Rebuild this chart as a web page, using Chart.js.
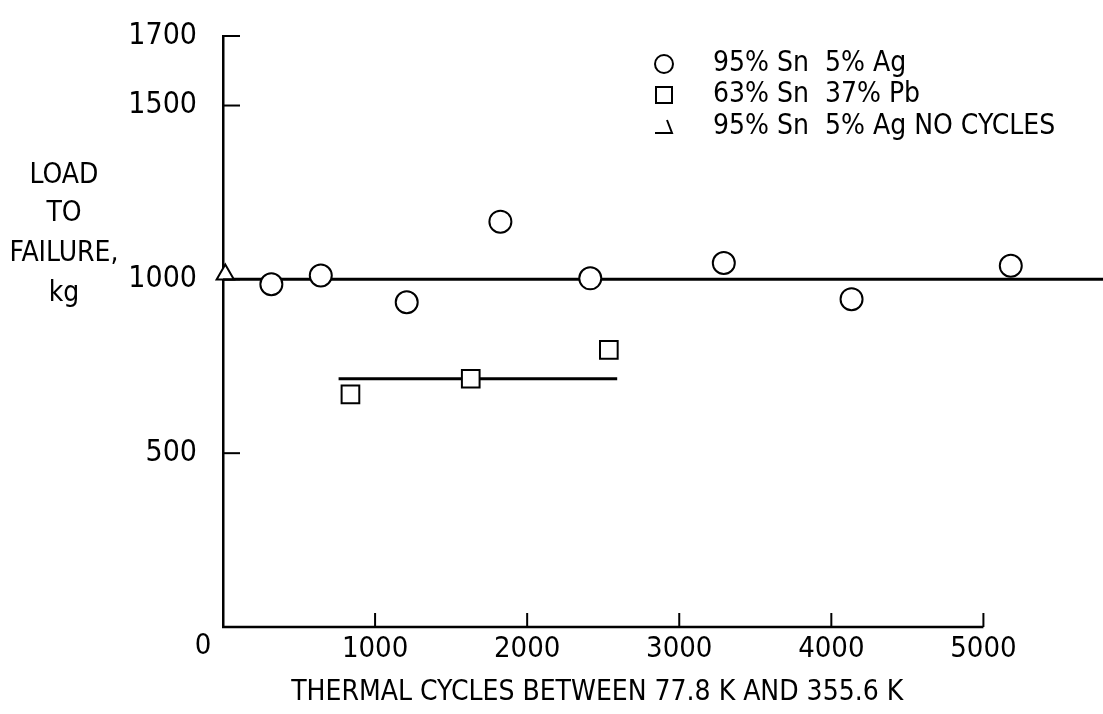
<!DOCTYPE html>
<html>
<head>
<meta charset="utf-8">
<script src="https://cdn.jsdelivr.net/npm/chart.js@4/dist/chart.umd.min.js"></script>
<style>
  html, body { margin: 0; padding: 0; background: #fff; }
</style>
</head>
<body>
<canvas id="myChart" width="1103" height="714"></canvas>
<script>
var FONT = '"Liberation Sans Narrow", "DejaVu Sans Condensed", "Roboto Condensed", sans-serif';

// 95% Sn 5% Ag solder: thermal cycles vs load to failure (kg)
var snAgCycles = [318, 643, 1208, 1824, 2415, 3293, 4133, 5180];
var snAgLoad = [986, 1011, 934, 1166, 1003, 1047, 943, 1039];
// 63% Sn 37% Pb solder
var snPbCycles = [838, 1629, 2537];
var snPbLoad = [669, 714, 797];
// 95% Sn 5% Ag, no cycles
var noCycCycles = [15];
var noCycLoad = [1014];
// faired lines
var snAgFitCycles = [0, 5800];
var snAgFitLoad = [1000, 1000];
var snPbFitCycles = [760, 2592];
var snPbFitLoad = [714, 714];

var xTicks = [0, 1000, 2000, 3000, 4000, 5000];
var yTicks = [500, 1000, 1500, 1700];
var yTitle = ['LOAD', 'TO', 'FAILURE,', 'kg'];
var xTitle = 'THERMAL CYCLES BETWEEN 77.8 K AND 355.6 K';
var legendLabels = ['95% Sn  5% Ag', '63% Sn  37% Pb', '95% Sn  5% Ag NO CYCLES'];

function pts(xs, ys) {
    return xs.map(function (x, i) { return {x: x, y: ys[i]}; });
}

// x axis line that stops at 5000, inward tick marks, corner zero, titles and legend
var extras = {
    id: 'extras',
    afterDraw: function (chart) {
        var ctx = chart.ctx;
        var xs = chart.scales.x, ys = chart.scales.y;
        var a = chart.chartArea;
        var x0 = xs.getPixelForValue(0), xEnd = xs.getPixelForValue(xTicks[xTicks.length - 1]);
        ctx.save();
        ctx.strokeStyle = '#000';
        ctx.lineWidth = 2.5;
        ctx.beginPath(); ctx.moveTo(x0 - 1, a.bottom); ctx.lineTo(xEnd, a.bottom); ctx.stroke();
        ctx.lineWidth = 2;
        yTicks.forEach(function (v) {
            var py = ys.getPixelForValue(v);
            ctx.beginPath(); ctx.moveTo(a.left, py); ctx.lineTo(a.left + 17, py); ctx.stroke();
        });
        xTicks.slice(1).forEach(function (v) {
            var px = xs.getPixelForValue(v);
            ctx.beginPath(); ctx.moveTo(px, a.bottom); ctx.lineTo(px, a.bottom - 14); ctx.stroke();
        });

        ctx.fillStyle = '#000';
        ctx.textBaseline = 'middle';
        ctx.textAlign = 'center';
        ctx.font = '29px ' + FONT;
        ctx.fillText('0', x0 - 20, a.bottom + 19);

        // x title centred under the 0-5000 span
        ctx.font = '28px ' + FONT;
        ctx.fillText(xTitle, (x0 + xEnd) / 2 - 6, a.bottom + 66);

        // y title, horizontal, stacked
        var y1000 = ys.getPixelForValue(1000);
        var offs = [-104, -66, -26, 14];
        yTitle.forEach(function (t, i) {
            ctx.fillText(t, 64, y1000 + offs[i]);
        });

        // legend
        var mx = 664, tx = 713, rows = [64, 95, 127];
        ctx.textAlign = 'left';
        ctx.font = '28px ' + FONT;
        legendLabels.forEach(function (t, i) {
            ctx.fillText(t, tx, rows[i]);
        });
        ctx.lineWidth = 2;
        ctx.beginPath(); ctx.arc(mx, rows[0], 9, 0, Math.PI * 2); ctx.stroke();
        ctx.strokeRect(mx - 8, rows[1] - 8, 16, 16);
        ctx.beginPath();
        ctx.moveTo(mx - 9, rows[2] + 6); ctx.lineTo(mx + 8, rows[2] + 6); ctx.lineTo(mx + 3, rows[2] - 7);
        ctx.stroke();
        ctx.restore();
    }
};

var ctx = document.getElementById('myChart').getContext('2d');
var myChart = new Chart(ctx, {
    type: 'scatter',
    data: {
        datasets: [{
            label: legendLabels[0],
            data: pts(snAgCycles, snAgLoad),
            pointStyle: 'circle',
            pointRadius: 11,
            borderWidth: 2,
            borderColor: '#000',
            backgroundColor: '#fff'
        }, {
            label: legendLabels[1],
            data: pts(snPbCycles, snPbLoad),
            pointStyle: 'rect',
            pointRadius: 12.5,
            borderWidth: 2,
            borderColor: '#000',
            backgroundColor: '#fff'
        }, {
            label: legendLabels[2],
            data: pts(noCycCycles, noCycLoad),
            pointStyle: 'triangle',
            pointRadius: 10,
            borderWidth: 2,
            borderColor: '#000',
            backgroundColor: '#fff',
            clip: false
        }, {
            label: 'Sn-Ag fit',
            data: pts(snAgFitCycles, snAgFitLoad),
            showLine: true,
            pointRadius: 0,
            borderWidth: 3,
            borderColor: '#000',
            clip: false
        }, {
            label: 'Sn-Pb fit',
            data: pts(snPbFitCycles, snPbFitLoad),
            showLine: true,
            pointRadius: 0,
            borderWidth: 3,
            borderColor: '#000'
        }]
    },
    options: {
        responsive: false,
        animation: false,
        devicePixelRatio: 1,
        layout: {
            padding: {left: 103, right: 0, top: 25, bottom: 0}
        },
        scales: {
            x: {
                type: 'linear',
                position: 'bottom',
                min: 0,
                max: 5691,
                afterBuildTicks: function (s) {
                    s.ticks = xTicks.map(function (v) { return {value: v}; });
                },
                afterFit: function (s) { s.height = 87; },
                grid: {display: false},
                border: {display: false},
                ticks: {
                    color: '#000',
                    padding: -3,
                    maxRotation: 0,
                    font: {family: FONT, size: 29},
                    callback: function (v) { return v === 0 ? '' : String(v); }
                }
            },
            y: {
                type: 'linear',
                position: 'left',
                min: 0,
                max: 1700,
                afterBuildTicks: function (s) {
                    s.ticks = yTicks.map(function (v) { return {value: v}; });
                },
                afterFit: function (s) { s.width = 120; },
                grid: {display: false},
                border: {display: true, color: '#000', width: 2.5},
                ticks: {
                    color: '#000',
                    padding: 18,
                    font: {family: FONT, size: 30},
                    callback: function (v) { return String(v); }
                }
            }
        },
        plugins: {
            legend: {display: false},
            tooltip: {enabled: false}
        }
    },
    plugins: [extras]
});
</script>
</body>
</html>
